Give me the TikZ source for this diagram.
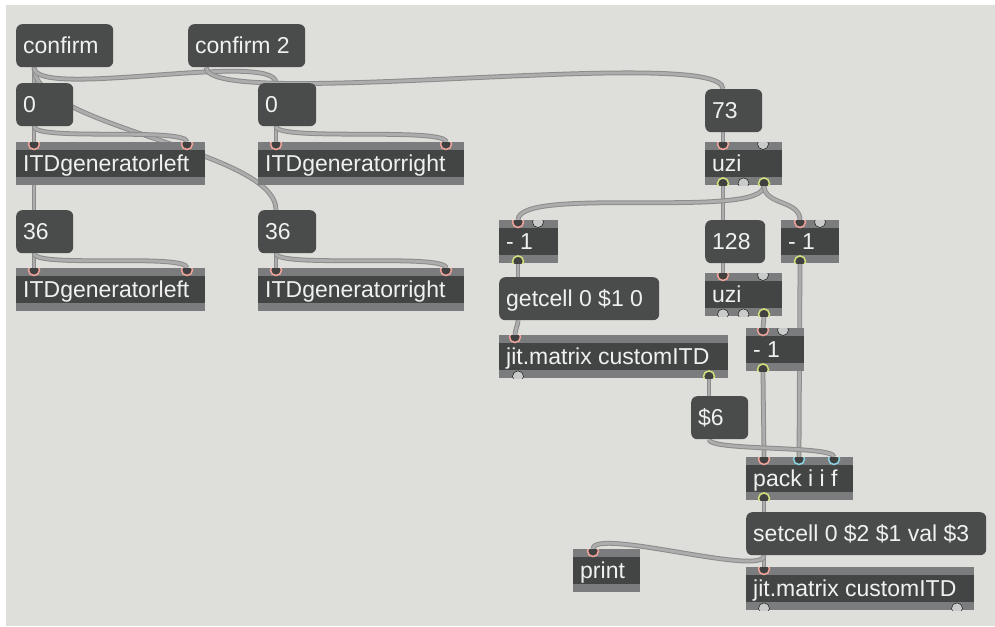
\documentclass[tikz,border=0pt]{standalone}
\usepackage{fontspec}
\setmainfont{Liberation Sans}
\usepackage{tikz}
\usetikzlibrary{calc}
\definecolor{patchbg}{HTML}{DEDFDA}
\definecolor{msgfill}{HTML}{4A4C4C}
\definecolor{objfill}{HTML}{434545}
\definecolor{strip}{HTML}{7A7C7E}
\definecolor{cordedge}{HTML}{8C8C8C}
\definecolor{cordfill}{HTML}{ADADAD}
\definecolor{inpink}{HTML}{F2A49A}
\definecolor{outyel}{HTML}{D3E07C}
\definecolor{incyan}{HTML}{8AD3E3}
\definecolor{portidle}{HTML}{C9CACA}
\pgfdeclarelayer{cords}
\pgfsetlayers{cords,main}

\tikzset{
  box/.style={anchor=north west,inner xsep=7pt,inner ysep=0pt,minimum height=43pt,
    text height=19pt,text depth=3pt,text=white!94!black,font=\fontsize{23}{26}\selectfont},
  msg/.style={box,fill=msgfill,rounded corners=6pt},
  obj/.style={box,fill=objfill,path picture={
    \fill[strip] (path picture bounding box.north west) rectangle ([yshift=-8pt]path picture bounding box.north east);
    \fill[strip] (path picture bounding box.south west) rectangle ([yshift=8pt]path picture bounding box.south east);}},
  cord/.style={draw=cordedge,line width=1pt,double=cordfill,double distance=2.8pt},
  pk/.style={draw=inpink,line width=1.5pt,fill=black!75},
  yl/.style={draw=outyel,line width=1.5pt,fill=black!75},
  cy/.style={draw=incyan,line width=1.5pt,fill=black!75},
  idle/.style={fill=portidle}
}
% boxes: name, left, top, width, text
\newcommand{\msgbox}[5]{\pgfmathsetmacro{\tw}{#4-14}\node[msg] (#1) at (#2,#3) {\makebox[\tw pt][l]{#5}};}
\newcommand{\objbox}[5]{\pgfmathsetmacro{\tw}{#4-14}\node[obj] (#1) at (#2,#3) {\makebox[\tw pt][l]{#5}};}
% ports: box, port, offset from left edge, look
\newcommand{\inport}[4]{\coordinate (#1-#2) at ([xshift=#3pt]#1.north west);
  \begin{scope}\clip (#1.north west) rectangle (#1.south east);\draw[#4] ([yshift=-2pt]#1-#2) circle (5.5pt);\end{scope}}
\newcommand{\outport}[4]{\coordinate (#1-#2) at ([xshift=#3pt]#1.south west);
  \begin{scope}\clip (#1.north west) rectangle (#1.south east);\draw[#4] ([yshift=2pt]#1-#2) circle (5.5pt);\end{scope}}

\begin{document}
\begin{tikzpicture}[x=1pt,y=-1pt]
  \useasboundingbox (0,0) rectangle (995,626);
  % left half: generators
  \msgbox{confirm}{16}{24}{97}{confirm}
  \msgbox{confirmB}{188}{24}{117}{confirm 2}
  \msgbox{zeroL}{16}{83}{57}{0}
  \msgbox{zeroR}{258}{83}{58}{0}
  \objbox{itdL}{16}{142}{189}{ITDgeneratorleft}
  \objbox{itdR}{258}{142}{206}{ITDgeneratorright}
  \msgbox{sixL}{16}{210}{57}{36}
  \msgbox{sixR}{258}{210}{58}{36}
  \objbox{itdLb}{16}{268}{189}{ITDgeneratorleft}
  \objbox{itdRb}{258}{268}{206}{ITDgeneratorright}
  % right half: matrix fill
  \msgbox{sevth}{705}{89}{57}{73}
  \objbox{uziA}{705}{142}{77}{uzi}
  \objbox{minA}{499}{220}{59}{- 1}
  \msgbox{count}{705}{220}{60}{128}
  \objbox{minB}{781}{220}{58}{- 1}
  \msgbox{getcell}{499}{277}{160}{getcell 0 \$1 0}
  \objbox{uziB}{705}{273}{77}{uzi}
  \objbox{jitA}{499}{335}{229}{jit.matrix customITD}
  \objbox{minC}{746}{328}{58}{- 1}
  \msgbox{dollar}{691}{396}{57}{\$6}
  \objbox{pack}{746}{457}{107}{pack i i f}
  \msgbox{setcell}{746}{512}{240}{setcell 0 \$2 \$1 val \$3}
  \objbox{print}{573}{549}{67}{print}
  \objbox{jitB}{746}{567}{228}{jit.matrix customITD}

  % message ends
  \foreach \m/\off in {confirm/18,confirmB/18,zeroL/18,zeroR/18,sixL/18,sixR/18,sevth/18,count/18,getcell/19,dollar/18,setcell/18} {
    \coordinate (\m-i) at ([xshift=\off pt]\m.north west);
    \coordinate (\m-o) at ([xshift=\off pt]\m.south west);
  }
  % object ports
  \foreach \b in {itdL,itdLb} {\inport{\b}{in1}{18}{pk}\inport{\b}{in2}{171}{pk}}
  \foreach \b in {itdR,itdRb} {\inport{\b}{in1}{18}{pk}\inport{\b}{in2}{188}{pk}}
  \inport{uziA}{in1}{18}{pk}\inport{uziA}{in2}{58}{idle}
  \outport{uziA}{out1}{18}{yl}\outport{uziA}{out2}{38.5}{idle}\outport{uziA}{out3}{59}{yl}
  \inport{uziB}{in1}{18}{pk}\inport{uziB}{in2}{58}{idle}
  \outport{uziB}{out1}{18}{idle}\outport{uziB}{out2}{38.5}{idle}\outport{uziB}{out3}{59}{yl}
  \foreach \b/\o in {minA/19,minB/19,minC/17} {
    \inport{\b}{in1}{\o}{pk}\inport{\b}{in2}{\o+20}{idle}\outport{\b}{out1}{\o}{yl}}
  \inport{jitA}{in1}{16}{pk}\outport{jitA}{out1}{19}{idle}\outport{jitA}{out2}{210}{yl}
  \inport{jitB}{in1}{18}{pk}\outport{jitB}{out1}{18}{idle}\outport{jitB}{out2}{211}{idle}
  \inport{pack}{in1}{18}{pk}\inport{pack}{in2}{53}{cy}\inport{pack}{in3}{88}{cy}
  \outport{pack}{out1}{18}{yl}
  \inport{print}{in1}{20}{pk}

  \begin{pgfonlayer}{cords}
    \fill[white] (0,0) rectangle (995,626);
    \fill[patchbg] (6,5) rectangle (995,626);
    \foreach \a/\b/\d in {confirm-o/zeroL-i/5, confirm-o/sixL-i/5, confirm-o/sixR-i/60,
        confirm-o/zeroR-i/33, confirmB-o/sevth-i/45,
        zeroL-o/itdL-in1/5, zeroL-o/itdL-in2/15, zeroR-o/itdR-in1/5, zeroR-o/itdR-in2/15,
        sixL-o/itdLb-in1/5, sixL-o/itdLb-in2/15, sixR-o/itdRb-in1/5, sixR-o/itdRb-in2/15,
        sevth-o/uziA-in1/5, uziA-out1/count-i/5, uziA-out3/minA-in1/35, uziA-out3/minB-in1/20,
        minA-out1/getcell-i/5, getcell-o/jitA-in1/5, jitA-out2/dollar-i/5,
        count-o/uziB-in1/5, uziB-out3/minC-in1/5, minC-out1/pack-in1/5, minB-out1/pack-in2/5,
        dollar-o/pack-in3/12, pack-out1/setcell-i/5, setcell-o/jitB-in1/5, setcell-o/print-in1/22}
      \draw[cord] (\a) .. controls +(0,\d) and +(0,-\d) .. (\b);
  \end{pgfonlayer}
\end{tikzpicture}
\end{document}
